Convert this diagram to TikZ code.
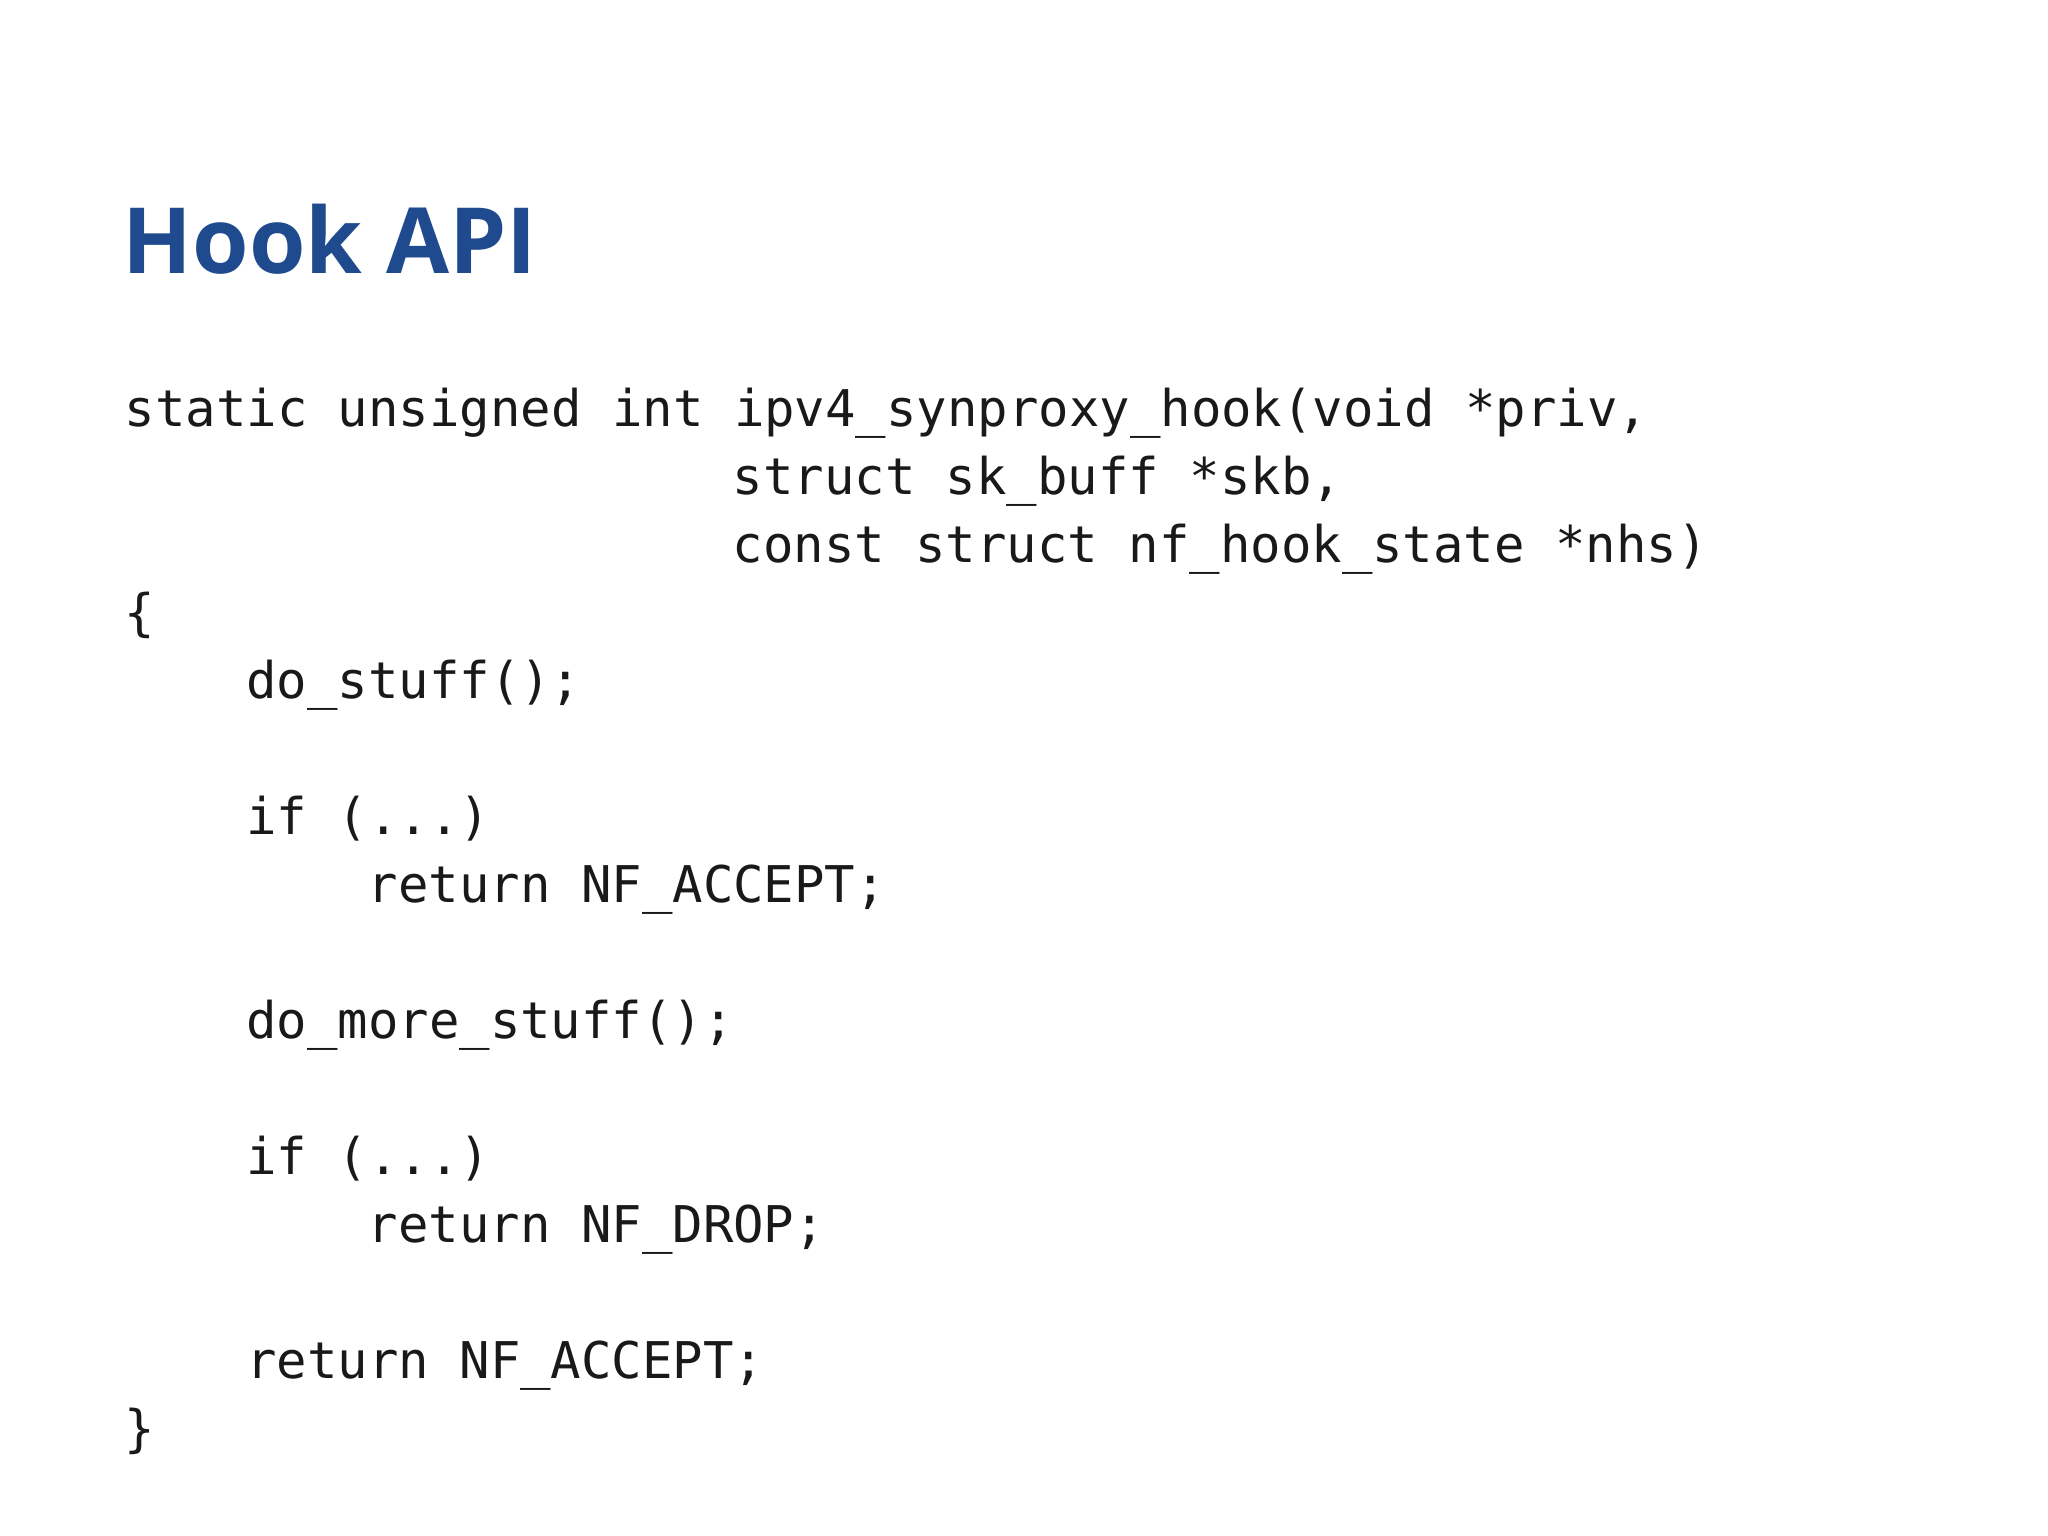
\documentclass[tikz,border=0pt]{standalone}
\usepackage{fontspec}
\setmainfont{Open Sans}
\newfontfamily\codefont{DejaVu Sans Mono}
\definecolor{titleblue}{HTML}{1F4B8E}
\begin{document}
\begin{tikzpicture}[x=1cm,y=-1cm,
  code/.style={anchor=base west,inner sep=0pt,font=\codefont\fontsize{14.4pt}{17pt}\selectfont,text=black!90}]
\useasboundingbox (0,0) rectangle (20.48,15.36);
\def\cw{0.304}
\def\lh{0.68}
\node[anchor=base west,inner sep=0pt,text=titleblue,font=\bfseries\fontsize{26pt}{30pt}\selectfont] (title) at (1.22,2.74) {Hook API};
\node[code] (l1) at (1.24,4.27) {static unsigned int ipv4\_synproxy\_hook(void *priv,};
\node[code] (l2) at ({1.24+20*\cw},{4.27+1*\lh}) {struct sk\_buff *skb,};
\node[code] (l3) at ({1.24+20*\cw},{4.27+2*\lh}) {const struct nf\_hook\_state *nhs)};
\node[code] (l4) at (1.24,{4.27+3*\lh}) {\{};
\node[code] (l5) at ({1.24+4*\cw},{4.27+4*\lh}) {do\_stuff();};
\node[code] (l7) at ({1.24+4*\cw},{4.27+6*\lh}) {if (...)};
\node[code] (l8) at ({1.24+8*\cw},{4.27+7*\lh}) {return NF\_ACCEPT;};
\node[code] (l10) at ({1.24+4*\cw},{4.27+9*\lh}) {do\_more\_stuff();};
\node[code] (l12) at ({1.24+4*\cw},{4.27+11*\lh}) {if (...)};
\node[code] (l13) at ({1.24+8*\cw},{4.27+12*\lh}) {return NF\_DROP;};
\node[code] (l15) at ({1.24+4*\cw},{4.27+14*\lh}) {return NF\_ACCEPT;};
\node[code] (l16) at (1.24,{4.27+15*\lh}) {\}};
\end{tikzpicture}
\end{document}
